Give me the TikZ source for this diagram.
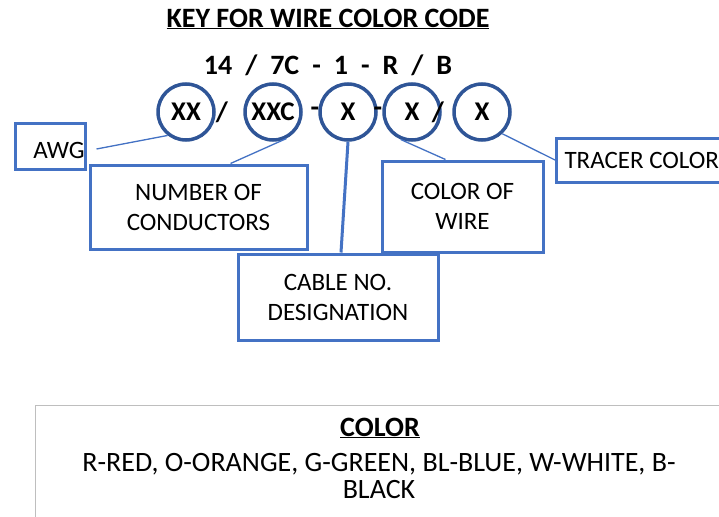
\documentclass[tikz,border=0pt]{standalone}
\usepackage{fontspec}
\setmainfont{Carlito}
\usetikzlibrary{positioning}
\definecolor{ringblue}{RGB}{47,85,151}
\definecolor{boxblue}{RGB}{68,114,196}
\definecolor{keygray}{RGB}{190,190,190}

\begin{document}
\begin{tikzpicture}[
  x=1pt, y=-1pt,
  font=\fontsize{25}{30}\selectfont,
  ring/.style={circle, draw=ringblue, line width=3.5pt, minimum size=56pt, inner sep=0pt, font=\fontsize{27}{30}\selectfont\bfseries},
  lbl/.style={rectangle, draw=boxblue, line width=3pt, align=center, inner sep=0pt},
  lead/.style={draw=boxblue, line width=1.3pt},
  sym/.style={inner sep=0pt, font=\fontsize{28}{30}\selectfont\bfseries}
]
\useasboundingbox[fill=white] (0,0) rectangle (719,516);
\clip (0,0) rectangle (719,516);

% heading + example code
\node[inner sep=0pt, font=\fontsize{28}{30}\selectfont\bfseries] (title) at (328,19) {\underline{KEY FOR WIRE COLOR CODE}};
\node[sym] (example) at (328,65) {14\kern13pt/\kern13pt7C\kern13pt-\kern13pt1\kern13pt-\kern13ptR\kern13pt/\kern13ptB};

% code fields
\node[ring] (awg)    at (186,112) {XX};
\node[sym]  (slash1) at (222,112) {/};
\node[ring] (cond)   at (273,112) {XXC};
\node[sym]  (dash1)  at (315,112) {-};
\node[ring] (cable)  at (348,112) {X};
\node[sym]  (dash2)  at (378,112) {-};
\node[ring] (wire)   at (412,112) {X};
\node[sym]  (slash2) at (438,112) {/};
\node[ring] (tracer) at (482,112) {X};

% label boxes
\node[lbl, minimum width=70pt, minimum height=46pt] (awgbox) at (50,146) {};
\node[inner sep=0pt] (awgtext) at (59,150) {AWG};
\node[lbl, minimum width=217pt, minimum height=84pt] (condbox) at (198.5,207) {NUMBER OF\\CONDUCTORS};
\node[lbl, minimum width=200pt, minimum height=86pt] (cablebox) at (338,297) {CABLE NO.\\DESIGNATION};
\node[lbl, minimum width=161pt, minimum height=91pt] (wirebox) at (462.5,206.5) {COLOR OF\\WIRE};
\node[lbl, anchor=west, minimum height=44pt, inner xsep=8pt] (tracerbox) at (555,160) {TRACER COLOR};

% leaders
\draw[lead] ([xshift=10pt,yshift=-3pt]awgbox.east) -- (awg.232);
\draw[lead] ([xshift=32pt]condbox.north) -- (cond.297);
\draw[draw=boxblue, line width=3pt] (cable.south) -- ([xshift=3pt]cablebox.north);
\draw[lead] ([xshift=-17pt]wirebox.north) -- (wire.248);
\draw[lead] (tracer.313) -- (tracerbox.west);

% colour key
\node[draw=keygray, line width=1pt, anchor=north west, minimum width=720pt, minimum height=150pt] (keybox) at (35,405) {};
\node[inner sep=0pt, font=\fontsize{28}{30}\selectfont\bfseries] (keytitle) at (380,428) {\underline{COLOR}};
\node[inner sep=0pt, align=center, font=\fontsize{28}{27}\selectfont] (keytext) at (379,476) {R-RED, O-ORANGE, G-GREEN, BL-BLUE, W-WHITE, B-\\BLACK};

\end{tikzpicture}
\end{document}
